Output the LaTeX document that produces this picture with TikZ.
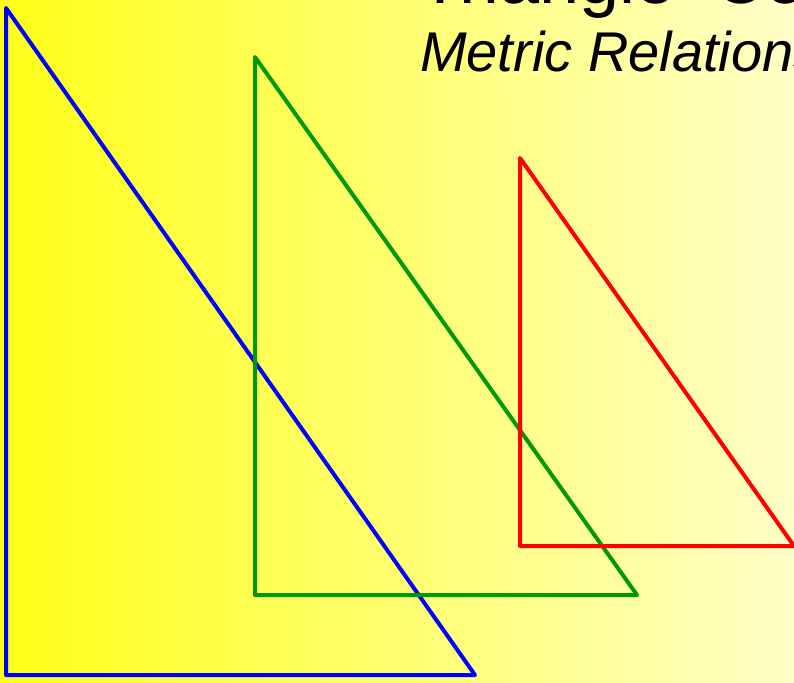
\documentclass[tikz,border=0pt]{standalone}
\usepackage{fontspec}
\setmainfont{Liberation Sans}
\begin{document}
\begin{tikzpicture}[x=1pt,y=-1pt,
  tri/.style={line width=4pt,line join=round},
  titletext/.style={anchor=base west,inner sep=0pt,font=\fontsize{72}{72}\selectfont},
  subtext/.style={anchor=base west,inner sep=0pt,font=\fontsize{56}{56}\selectfont\itshape}]
\useasboundingbox (0,0) rectangle (794,682);
\clip (0,0) rectangle (794,682);
\shade[left color={rgb,255:red,255;green,255;blue,25}, right color={rgb,255:red,255;green,255;blue,200}] (0,0) rectangle (794,682);
\node[titletext] (title) at (418,4) {Triangle\hspace{38pt}Co};
\node[subtext] (sub) at (420,72) {Metric Relations};
% blue
\coordinate (b1) at (6,8);
\coordinate (b2) at (6,675);
\coordinate (b3) at (475,675);
\draw[tri,blue] (b1) -- (b2) -- (b3) -- cycle;
% green
\coordinate (g1) at (255,57);
\coordinate (g2) at (255,595);
\coordinate (g3) at (637,595);
\draw[tri,green!60!black] (g1) -- (g2) -- (g3) -- cycle;
% red
\coordinate (r1) at (520,158);
\coordinate (r2) at (520,546);
\coordinate (r3) at (794,546);
\draw[tri,red] (r1) -- (r2) -- (r3) -- cycle;
\end{tikzpicture}
\end{document}
